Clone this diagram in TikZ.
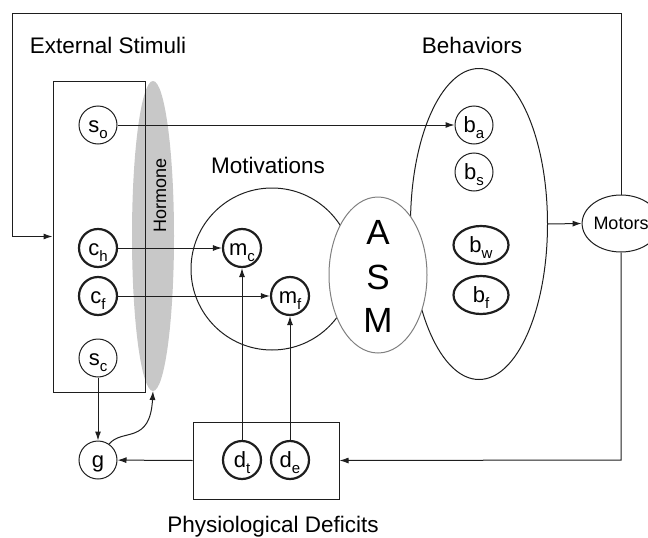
\documentclass[tikz,border=0pt]{standalone}
\usepackage{fontspec}
\setmainfont{Liberation Sans}
\usetikzlibrary{arrows.meta,shapes.geometric}
\newcommand{\sbs}[1]{\smash{\raisebox{-0.28em}{\fontsize{15}{15}\selectfont #1}}}
\definecolor{hormgray}{RGB}{200,200,200}
\definecolor{linegray}{RGB}{30,30,30}
\begin{document}
\begin{tikzpicture}[x=1pt,y=-1pt,
  arr/.style={draw=linegray, line width=1pt, -{Latex[length=9pt,width=6pt]}},
  thinc/.style={circle, draw=linegray, line width=1pt, minimum size=38pt, inner sep=0pt, fill=white, text height=14pt, text depth=0pt, font=\fontsize{22}{22}\selectfont},
  thickc/.style={thinc, line width=2.2pt},
  thicke/.style={ellipse, draw=linegray, line width=2.2pt, minimum width=55pt, minimum height=38pt, inner sep=0pt, fill=white, text height=14pt, text depth=0pt, font=\fontsize{22}{22}\selectfont},
  lbl/.style={anchor=base, font=\fontsize{22.5}{22.5}\selectfont},
  bigshape/.style={draw=linegray, line width=1pt, inner sep=0pt}]
\useasboundingbox (0,0) rectangle (648,538);

% hormone
\node[ellipse, fill=hormgray, draw=none, minimum width=42pt, minimum height=310pt, inner sep=0pt] (horm) at (153,236) {};

% boxes
\node[bigshape, rectangle, minimum width=92pt, minimum height=311pt] (ext) at (99,236.5) {};
\node[bigshape, rectangle, minimum width=146pt, minimum height=77pt] (phys) at (266,460.5) {};

% big circles / ellipses
\node[bigshape, circle, minimum size=162pt] (mot) at (272,269) {};
\node[bigshape, ellipse, minimum width=137pt, minimum height=311pt] (beh) at (479,224) {};
\node[ellipse, draw=gray, line width=1pt, fill=white, minimum width=98pt, minimum height=156pt, inner sep=0pt] (asm) at (378,275) {};
\node[font=\fontsize{35}{35}\selectfont] (asmA) at (378,232) {A};
\node[font=\fontsize{35}{35}\selectfont] (asmS) at (378,277) {S};
\node[font=\fontsize{35}{35}\selectfont] (asmM) at (378,320) {M};

% labels
\node[lbl] (lext) at (108,53) {External Stimuli};
\node[lbl] (lmot) at (268,173) {Motivations};
\node[lbl] (lbeh) at (472,53) {Behaviors};
\node[lbl] (lphys) at (273,532) {Physiological Deficits};
\node[rotate=90, font=\fontsize{18}{18}\selectfont] (lhorm) at (160,195) {Hormone};

% small nodes
\node[thinc] (so) at (98,125) {s\sbs{o}};
\node[thickc] (ch) at (98,248) {c\sbs{h}};
\node[thickc] (cf) at (98,296) {c\sbs{f}};
\node[thinc] (sc) at (98,358) {s\sbs{c}};
\node[thinc] (g) at (98,460) {g};
\node[thickc] (mc) at (242,248) {m\sbs{c}};
\node[thickc] (mf) at (290,296) {m\sbs{f}};
\node[thickc] (dt) at (242,460) {d\sbs{t}};
\node[thickc] (de) at (290,460) {d\sbs{e}};
\node[thinc] (ba) at (474,125) {b\sbs{a}};
\node[thinc] (bs) at (474,172) {b\sbs{s}};
\node[thicke] (bw) at (481,245) {b\sbs{w}};
\node[thicke] (bf) at (481,295) {b\sbs{f}};
\node[ellipse, draw=linegray, line width=1pt, fill=white, minimum width=72pt, minimum height=57pt, inner sep=0pt, font=\fontsize{18}{18}\selectfont] (motors) at (621,223.5) {Motors};

% coordinates
\coordinate (tr) at (621,13);
\coordinate (tl) at (12,13);
\coordinate (br) at (621,460);
\coordinate (hb) at (153,391);

% connectors
\draw[arr] (so) -- (ba);
\draw[arr] (ch) -- (mc);
\draw[arr] (cf) -- (mf);
\draw[arr] (dt) -- (mc);
\draw[arr] (de) -- (mf);
\draw[arr] (sc) -- (g);
\draw[arr] (phys.west) -- (g);
\draw[arr] (g.55) .. controls (122,428) and (150,445) .. (hb);
\draw[arr] (beh.east) -- (motors.west);
\draw[arr] (motors.north) -- (tr) -- (tl) |- (ext.west);
\draw[arr] (motors.south) -- (br) -- (phys.east);
\end{tikzpicture}
\end{document}
